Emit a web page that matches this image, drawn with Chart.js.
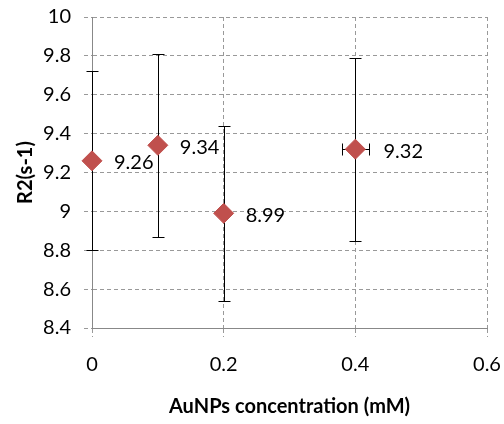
<!DOCTYPE html>
<html>
<head>
<meta charset="utf-8">
<script src="https://cdn.jsdelivr.net/npm/chart.js@4"></script>
<style>
  html, body { margin: 0; padding: 0; background: #fff; }
  #wrap { width: 504px; height: 424px; }
</style>
</head>
<body>
<div id="wrap"><canvas id="r2Chart" width="504" height="424"></canvas></div>
<script>
// data
const concentrations = [0, 0.1, 0.2, 0.4];
const r2Values = [9.26, 9.34, 8.99, 9.32];
const r2Errors = [0.46, 0.47, 0.45, 0.47];
const concErrors = [0, 0, 0, 0.02];
const xTicks = [0, 0.2, 0.4, 0.6];
const yTicks = [8.4, 8.6, 8.8, 9, 9.2, 9.4, 9.6, 9.8, 10];

const FONT = 'Lato';

// error bars, drawn under the markers
const errorBars = {
  id: 'errorBars',
  beforeDatasetsDraw(chart) {
    const {ctx, scales: {x, y}} = chart;
    const cap = 6;
    ctx.save();
    ctx.strokeStyle = '#000';
    ctx.lineWidth = 1;
    concentrations.forEach((c, i) => {
      const px = Math.round(x.getPixelForValue(c)) + 0.5;
      const py = Math.round(y.getPixelForValue(r2Values[i])) + 0.5;
      const top = Math.round(y.getPixelForValue(r2Values[i] + r2Errors[i])) + 0.5;
      const bot = Math.round(y.getPixelForValue(r2Values[i] - r2Errors[i])) + 0.5;
      ctx.beginPath();
      ctx.moveTo(px, top); ctx.lineTo(px, bot);
      ctx.moveTo(px - cap, top); ctx.lineTo(px + cap, top);
      ctx.moveTo(px - cap, bot); ctx.lineTo(px + cap, bot);
      if (concErrors[i]) {
        const l = Math.round(x.getPixelForValue(c - concErrors[i])) + 0.5;
        const r = Math.round(x.getPixelForValue(c + concErrors[i])) + 0.5;
        ctx.moveTo(l, py); ctx.lineTo(r, py);
        ctx.moveTo(l, py - cap); ctx.lineTo(l, py + cap);
        ctx.moveTo(r, py - cap); ctx.lineTo(r, py + cap);
      }
      ctx.stroke();
    });
    ctx.restore();
  }
};

// value labels to the right of each point
const valueLabels = {
  id: 'valueLabels',
  afterDatasetsDraw(chart) {
    const {ctx, scales: {x, y}} = chart;
    ctx.save();
    ctx.font = '20px ' + FONT;
    ctx.fillStyle = '#000';
    ctx.textAlign = 'left';
    ctx.textBaseline = 'middle';
    concentrations.forEach((c, i) => {
      const px = x.getPixelForValue(c);
      const py = y.getPixelForValue(r2Values[i]);
      const xe = concErrors[i] ? x.getPixelForValue(c + concErrors[i]) - px : 0;
      const off = Math.max(22, xe + 15);
      ctx.fillText(r2Values[i].toFixed(2), px + off, py + 2);
    });
    ctx.restore();
  }
};

// keep the plot box where the reference has it
function fixBox(axis, size) {
  if (axis.isHorizontal()) axis.height = size; else axis.width = size;
  axis.paddingTop = 0;
  axis.paddingBottom = 0;
  axis.paddingLeft = 0;
  axis.paddingRight = 0;
}

new Chart(document.getElementById('r2Chart').getContext('2d'), {
  type: 'scatter',
  data: {
    datasets: [{
      label: 'R2',
      data: concentrations.map((c, i) => ({x: c, y: r2Values[i]})),
      pointStyle: 'rectRot',
      pointRadius: 10,
      pointHoverRadius: 10,
      backgroundColor: '#C0504D',
      borderColor: '#C0504D',
      borderWidth: 1,
      clip: false
    }]
  },
  options: {
    responsive: false,
    animation: false,
    layout: { padding: { left: 0, top: 17, right: 17, bottom: 0 } },
    plugins: {
      legend: { display: false },
      tooltip: { enabled: false }
    },
    scales: {
      x: {
        type: 'linear',
        min: 0,
        max: 0.6,
        afterBuildTicks: axis => { axis.ticks = xTicks.map(v => ({value: v})); },
        afterFit: axis => fixBox(axis, 96),
        ticks: {
          padding: 16,
          color: '#000',
          font: { family: FONT, size: 20 },
          callback: v => String(v)
        },
        grid: {
          color: '#999',
          tickLength: 9,
          tickColor: '#999',
          tickBorderDash: [4, 3]
        },
        border: { display: true, color: '#888', width: 1, dash: [4, 3] },
        title: {
          display: true,
          text: 'AuNPs concentration (mM)',
          color: '#000',
          font: { family: FONT, size: 20, weight: 'bold' },
          padding: { top: 0, bottom: 5 }
        }
      },
      y: {
        min: 8.4,
        max: 10,
        afterBuildTicks: axis => { axis.ticks = yTicks.map(v => ({value: v})); },
        afterFit: axis => fixBox(axis, 92),
        ticks: {
          padding: 13,
          color: '#000',
          font: { family: FONT, size: 20 },
          callback: v => String(v)
        },
        grid: {
          color: '#999',
          tickLength: 8,
          tickColor: '#999',
          tickBorderDash: [4, 3]
        },
        border: { display: true, color: '#888', width: 1, dash: [4, 3] },
        title: {
          display: true,
          text: 'R2(s-1)',
          color: '#000',
          font: { family: FONT, size: 20, weight: 'bold' },
          padding: { top: 14, bottom: 0 }
        }
      }
    }
  },
  plugins: [errorBars, valueLabels]
});
</script>
</body>
</html>
